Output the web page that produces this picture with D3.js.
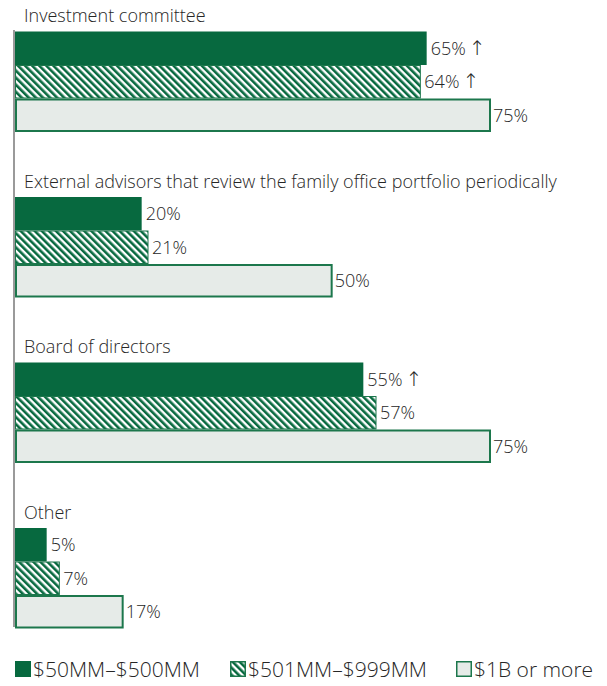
<!DOCTYPE html>
<html>
<head>
<meta charset="utf-8">
<script src="https://cdn.jsdelivr.net/npm/d3@7"></script>
<style>
  html, body { margin: 0; padding: 0; background: #fff; }
  svg { display: block; font-family: "Open Sans", "Noto Sans", sans-serif; font-weight: 350; }
</style>
</head>
<body>
<svg id="chart" width="607" height="686"></svg>
<script>
const categories = [
  "Investment committee",
  "External advisors that review the family office portfolio periodically",
  "Board of directors",
  "Other"
];
const seriesNames = ["$50MM–$500MM", "$501MM–$999MM", "$1B or more"];
const values50to500 = [65, 20, 55, 5];
const values501to999 = [64, 21, 57, 7];
const values1B = [75, 50, 75, 17];
const arrow50to500 = [true, false, true, false];
const arrow501to999 = [true, false, false, false];
const arrow1B = [false, false, false, false];

const seriesValues = [values50to500, values501to999, values1B];
const seriesArrows = [arrow50to500, arrow501to999, arrow1B];

const dark = "#07693f";
const light = "#e6ebe8";
const stroke = "#1c774c";
const textColor = "#262626";

const svg = d3.select("#chart");
const defs = svg.append("defs");
const pat = defs.append("pattern")
  .attr("id", "hatch")
  .attr("patternUnits", "userSpaceOnUse")
  .attr("width", 5).attr("height", 5)
  .attr("patternTransform", "rotate(-45)");
pat.append("rect").attr("width", 5).attr("height", 5).attr("fill", "#fff");
pat.append("rect").attr("x", 0).attr("width", 2.6).attr("height", 5).attr("fill", dark);

const x = d3.scaleLinear().domain([0, 75]).range([15, 490]);
const yGroup = d3.scaleBand().domain(categories).range([31.5, 31.5 + 4 * 165.5]);
const yBar = d3.scaleBand().domain(seriesNames).range([0, 100.5]);

const fills = [dark, "url(#hatch)", light];
const strokes = [null, stroke, stroke];
const strokeWidths = [0, 1, 2];

const rows = [];
categories.forEach((c, i) => {
  seriesNames.forEach((s, j) => {
    rows.push({ cat: c, ser: s, j: j, v: seriesValues[j][i], up: seriesArrows[j][i] });
  });
});

// category labels
svg.append("g").selectAll("text").data(categories).join("text")
  .attr("x", 24)
  .attr("y", d => yGroup(d) - 9.5)
  .attr("fill", textColor)
  .attr("font-size", 18)
  .text(d => d);

// bars
svg.append("g").selectAll("rect").data(rows).join("rect")
  .attr("x", d => x(0) + (d.j === 2 ? 1 : d.j === 1 ? 0.5 : 0))
  .attr("y", d => yGroup(d.cat) + yBar(d.ser) + (d.j === 2 ? 1 : d.j === 1 ? 0.5 : 0))
  .attr("width", d => x(d.v) - x(0) - (d.j === 2 ? 1 : d.j === 1 ? 0.5 : 0))
  .attr("height", d => yBar.bandwidth() - (d.j === 2 ? 2 : d.j === 1 ? 1 : 0))
  .attr("fill", d => fills[d.j])
  .attr("stroke", d => strokes[d.j])
  .attr("stroke-width", d => strokeWidths[d.j]);

// value labels
const vl = svg.append("g").selectAll("text").data(rows).join("text")
  .attr("x", d => x(d.v) + (d.j === 2 ? 3 : 4))
  .attr("y", d => yGroup(d.cat) + yBar(d.ser) + yBar.bandwidth() / 2)
  .attr("dy", "0.36em")
  .attr("fill", textColor)
  .attr("font-size", 18);
vl.append("tspan").text(d => d.v + "%");
vl.filter(d => d.up).append("tspan")
  .attr("dx", 3)
  .attr("font-family", "'DejaVu Sans', sans-serif")
  .attr("font-weight", 300)
  .attr("font-size", 20)
  .text("\u2191");

// axis line
svg.append("line")
  .attr("x1", 14).attr("x2", 14)
  .attr("y1", 30).attr("y2", 627)
  .attr("stroke", "#9a9a9a").attr("stroke-width", 2);

// legend
const legendX = [15, 230, 456];
const lg = svg.append("g").selectAll("g").data(seriesNames).join("g")
  .attr("transform", (d, i) => `translate(${legendX[i]},661)`);
lg.append("rect")
  .attr("x", (d, i) => i === 0 ? 0 : 0.75)
  .attr("y", (d, i) => i === 0 ? 0 : 0.75)
  .attr("width", (d, i) => i === 0 ? 16 : 14.5)
  .attr("height", (d, i) => i === 0 ? 16 : 14.5)
  .attr("fill", (d, i) => fills[i])
  .attr("stroke", (d, i) => i === 0 ? null : stroke)
  .attr("stroke-width", 1.5);
lg.append("text")
  .attr("x", 18)
  .attr("y", 8)
  .attr("dy", "0.36em")
  .attr("fill", textColor)
  .attr("font-size", 21)
  .text(d => d);
</script>
</body>
</html>
